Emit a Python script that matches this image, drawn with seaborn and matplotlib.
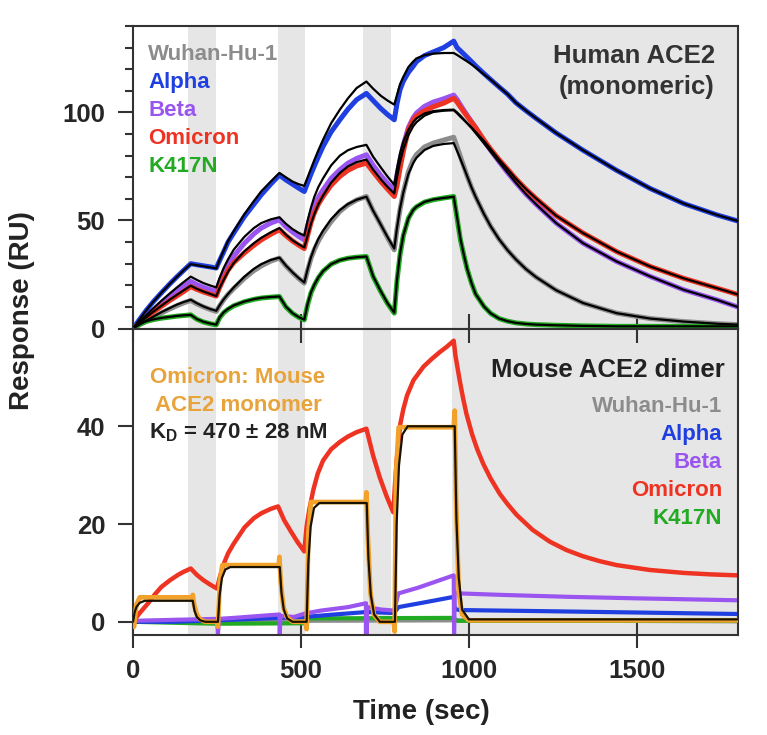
import numpy as np
import pandas as pd
import matplotlib
matplotlib.use("Agg")
import matplotlib.pyplot as plt
import seaborn as sns
from matplotlib.ticker import MultipleLocator

# ---------------- data ----------------
SHADE = [(165, 248), (432, 512), (685, 768), (950, 1800)]

# top panel: Human ACE2 (monomeric); common time grid (sec)
T_TOP = [0, 20, 40, 60, 85, 110, 130, 150, 172,
         190, 210, 230, 248,
         258, 270, 283, 300, 332, 360, 382, 410, 436,
         455, 475, 493, 510,
         520, 530, 540, 552, 566, 590, 616, 640, 666, 695,
         715, 738, 758, 778,
         786, 795, 805, 820, 834, 844, 868, 894, 925, 955,
         965, 975, 985, 995, 1008, 1020, 1045, 1065, 1090, 1115, 1140, 1170, 1200,
         1260, 1340, 1440, 1540, 1640, 1740, 1800]

alpha_top = [0, 4.3, 8.5, 12.3, 16.6, 20.7, 23.8, 26.8, 30.0,
             29.5, 29.0, 28.5, 28.0,
             31.5, 35.5, 40.0, 44.2, 51.9, 57.5, 61.9, 66.8, 71.0,
             68.8, 66.8, 65.0, 63.4,
             67.5, 71.5, 75.2, 79.5, 84.3, 91.0, 96.6, 101.5, 105.9, 108.8,
             105.5, 101.8, 99.0, 96.6,
             104.0, 110.5, 114.5, 118.5, 121.3, 123.5, 126.3, 128.0, 130.0, 133.0,
             130.0, 128.5, 127.0, 125.5, 123.5, 121.6, 118.0, 115.2, 111.8, 108.5, 104.5,
             100.8, 97.3, 90.5, 82.5, 73.2, 64.8, 57.8, 52.5, 49.8]
alpha_fit = [0, 4.3, 8.5, 12.3, 16.6, 20.7, 23.8, 26.8, 29.8,
             29.3, 28.8, 28.3, 27.8,
             31.8, 36.0, 40.5, 45.0, 53.0, 59.0, 63.5, 68.0, 72.0,
             70.0, 68.0, 66.8, 66.0,
             70.0, 74.0, 78.0, 82.5, 87.4, 95.0, 101.3, 106.5, 111.3, 114.3,
             111.0, 107.7, 105.5, 103.6,
             108.0, 113.0, 116.5, 121.0, 123.5, 125.0, 126.5, 127.2, 127.5, 127.5,
             126.6, 125.6, 124.6, 123.6, 122.2, 120.8, 117.6, 115.2, 111.8, 108.5, 104.5,
             100.8, 97.3, 90.5, 82.5, 73.2, 64.8, 57.8, 52.5, 49.8]
beta_top = [0, 2.9, 5.7, 8.4, 11.8, 15.0, 17.4, 19.6, 21.8,
            20.3, 19.0, 18.0, 17.1,
            21.5, 25.5, 29.5, 33.5, 39.5, 43.8, 46.5, 48.8, 50.3,
            47.2, 44.7, 42.7, 41.0,
            47.5, 53.0, 57.0, 60.8, 64.2, 69.5, 73.5, 76.5, 78.7, 80.4,
            75.5, 70.8, 67.2, 64.2,
            71.0, 78.0, 85.0, 93.0, 97.5, 99.7, 102.8, 104.8, 106.3, 108.0,
            106.0, 103.5, 101.0, 98.7, 95.7, 93.0, 87.0, 82.5, 77.2, 72.2, 67.5,
            62.2, 57.5, 48.8, 39.5, 31.0, 24.1, 17.9, 13.2, 10.0]
beta_fit = [0, 3.2, 6.3, 9.3, 12.9, 16.3, 18.9, 21.4, 24.0,
            22.5, 21.0, 19.9, 19.0,
            23.5, 28.0, 32.0, 36.5, 42.5, 46.5, 48.8, 50.5, 51.5,
            48.5, 46.0, 44.3, 43.0,
            50.0, 56.0, 61.0, 65.5, 69.5, 75.5, 80.0, 82.5, 84.0, 85.0,
            79.5, 74.5, 70.3, 66.5,
            74.0, 81.0, 86.5, 92.0, 95.5, 97.2, 99.5, 100.6, 101.1, 101.3,
            100.0, 98.5, 96.8, 95.0, 92.8, 90.5, 85.7, 81.8, 77.0, 72.2, 67.5,
            62.2, 57.5, 48.8, 39.5, 31.0, 24.1, 17.9, 13.2, 10.0]
omicron_top = [0, 2.6, 5.1, 7.5, 10.3, 13.0, 15.0, 17.0, 19.4,
               18.1, 16.9, 15.9, 15.0,
               19.0, 23.0, 27.0, 30.5, 35.0, 38.5, 41.0, 43.6, 45.7,
               43.0, 40.5, 38.6, 37.0,
               43.0, 49.0, 53.5, 57.5, 61.1, 66.3, 70.4, 73.2, 75.2, 76.6,
               72.5, 68.0, 64.5, 61.1,
               66.0, 74.0, 82.0, 92.0, 96.5, 98.3, 100.8, 102.6, 104.3, 106.5,
               104.8, 102.5, 100.3, 98.2, 95.5, 93.0, 87.2, 83.0, 78.2, 73.8, 69.3,
               64.5, 60.2, 52.2, 44.2, 35.6, 28.7, 23.2, 18.6, 15.8]
omicron_fit = [0, 2.7, 5.2, 7.7, 10.6, 13.4, 15.5, 17.6, 19.8,
               18.4, 17.1, 16.0, 15.0,
               18.8, 22.5, 26.3, 30.3, 35.8, 39.5, 42.0, 44.5, 46.5,
               43.5, 40.8, 39.0, 37.5,
               43.0, 48.5, 53.0, 57.5, 61.5, 67.5, 72.0, 75.0, 77.0, 78.2,
               73.5, 69.0, 65.5, 62.5,
               70.0, 77.0, 83.0, 89.5, 93.5, 95.5, 98.5, 100.2, 100.8, 101.0,
               99.6, 98.0, 96.5, 95.0, 93.0, 91.0, 86.8, 83.0, 78.2, 73.8, 69.3,
               64.5, 60.2, 52.2, 44.2, 35.6, 28.7, 23.2, 18.6, 15.8]
wuhan_top = [0, 1.8, 3.5, 5.1, 7.2, 9.1, 10.5, 11.8, 13.0,
             11.4, 10.0, 8.8, 7.9,
             10.5, 13.3, 15.8, 18.5, 23.3, 26.8, 29.0, 31.2, 32.6,
             29.0, 25.8, 23.2, 21.0,
             27.0, 32.5, 36.5, 40.5, 44.2, 49.5, 54.2, 57.2, 59.5, 61.1,
             54.5, 48.0, 42.0, 36.4,
             46.0, 55.0, 63.0, 72.5, 78.0, 80.5, 84.0, 85.8, 87.2, 88.5,
             84.0, 79.5, 75.0, 70.5, 65.3, 61.0, 53.0, 47.3, 41.3, 36.3, 32.0,
             27.5, 23.8, 17.7, 11.8, 7.1, 4.6, 3.2, 2.2, 1.8]
wuhan_fit = [0, 1.9, 3.7, 5.4, 7.6, 9.5, 11.0, 12.2, 13.3,
             11.7, 10.2, 9.0, 8.2,
             10.8, 13.5, 16.0, 19.0, 24.0, 27.6, 29.8, 31.7, 32.8,
             29.2, 26.0, 23.4, 21.3,
             27.5, 33.0, 37.3, 41.5, 45.3, 50.6, 54.8, 57.6, 59.6, 61.0,
             54.5, 48.0, 42.3, 37.0,
             46.5, 55.5, 63.0, 71.5, 76.5, 79.0, 82.6, 84.5, 85.4, 85.8,
             82.2, 78.4, 74.5, 70.5, 65.3, 61.0, 53.0, 47.3, 41.3, 36.3, 32.0,
             27.5, 23.8, 17.7, 11.8, 7.1, 4.6, 3.2, 2.2, 1.8]
k417n_top = [0, 2.0, 3.3, 4.1, 4.8, 5.3, 5.7, 6.0, 6.3,
             4.3, 3.0, 2.2, 1.7,
             5.0, 7.3, 8.9, 10.5, 12.4, 13.5, 14.1, 14.5, 14.8,
             10.0, 7.0, 5.2, 4.0,
             11.0, 16.5, 20.0, 23.5, 26.5, 29.8, 31.6, 32.5, 33.0, 33.3,
             24.0, 17.0, 11.5, 7.1,
             22.0, 34.0, 43.0, 51.0, 54.8, 56.3, 58.5, 59.6, 60.4, 61.1,
             51.0, 41.0, 34.0, 27.5, 21.0, 16.0, 10.2, 7.0, 4.6, 3.4, 2.6,
             2.1, 1.8, 1.5, 1.2, 1.0, 1.0, 1.0, 1.0, 1.0]
k417n_fit = [0, 2.1, 3.4, 4.2, 4.9, 5.4, 5.8, 6.1, 6.3,
             4.4, 3.1, 2.3, 1.8,
             5.2, 7.5, 9.1, 10.7, 12.5, 13.6, 14.2, 14.6, 14.8,
             10.2, 7.1, 5.3, 4.1,
             11.5, 16.8, 20.3, 23.7, 26.6, 29.8, 31.6, 32.5, 33.0, 33.3,
             24.2, 17.2, 11.7, 7.3,
             22.5, 34.5, 43.3, 51.0, 54.8, 56.4, 58.6, 59.7, 60.4, 61.0,
             51.5, 41.5, 34.2, 27.6, 21.0, 16.0, 10.2, 7.0, 4.6, 3.4, 2.6,
             2.1, 1.8, 1.5, 1.2, 1.0, 1.0, 1.0, 1.0, 1.0]

# bottom panel: Mouse ACE2 dimer
t_omi_dim = [0, 20, 45, 65, 84, 110, 134, 150, 172, 190, 210, 230, 250, 258, 270, 283,
             300, 332, 360, 382, 410, 432, 450, 470, 490, 510, 517, 525, 537, 550, 566,
             590, 616, 640, 666, 695, 715, 735, 755, 775, 780, 785, 796, 805, 816, 835,
             865, 890, 914, 935, 955, 960, 973, 983, 993, 1010, 1025, 1043, 1065, 1092,
             1115, 1142, 1190, 1241, 1290, 1340, 1390, 1440, 1539, 1640, 1720, 1800]
omi_dim = [0, 1.8, 3.8, 5.6, 7.1, 8.5, 9.6, 10.2, 10.9, 9.6, 8.5, 7.6, 6.8, 9.0, 11.8,
           14.0, 16.0, 19.3, 21.2, 22.2, 23.1, 23.6, 20.8, 18.5, 16.3, 14.4, 19.5, 23.0,
           27.0, 30.3, 33.0, 35.3, 36.8, 37.9, 38.8, 39.5, 34.0, 29.5, 25.7, 22.4, 28.0,
           33.0, 40.5, 43.5, 46.3, 49.4, 52.2, 53.8, 55.2, 56.3, 57.5, 54.5, 49.3, 45.7,
           42.5, 38.3, 35.3, 32.3, 29.3, 26.2, 24.1, 21.9, 18.8, 16.4, 14.7, 13.4, 12.4,
           11.6, 10.6, 10.0, 9.7, 9.5]
t_beta_dim = [0, 120, 250, 253, 256, 300, 436, 437, 439, 480, 512, 560, 640, 694, 695,
              697, 740, 778, 790, 850, 955, 956, 958, 975, 1100, 1300, 1500, 1800]
beta_dim = [0.2, 0.4, 0.6, -2.5, 0.6, 0.8, 1.5, -2.5, 1.2, 1.0, 1.7, 2.3, 3.0, 3.8, -2.5,
            3.0, 2.5, 2.3, 5.8, 7.0, 9.5, -2.5, 6.0, 5.8, 5.5, 5.1, 4.8, 4.4]
t_alpha_dim = [0, 120, 250, 437, 512, 600, 695, 778, 790, 870, 955, 958, 975, 1200, 1500, 1800]
alpha_dim = [0, 0, 0.3, 0.8, 1.0, 1.5, 2.0, 1.8, 3.0, 4.0, 5.1, 2.6, 2.4, 2.2, 1.9, 1.6]
t_k417n_dim = [0, 250, 510, 520, 955, 965, 1800]
k417n_dim = [0, -0.4, -0.3, 0.7, 0.8, 0.2, 0.2]
t_wuhan_dim = [0, 500, 958, 1800]
wuhan_dim = [0, 0.2, 0.3, 0.1]

# Omicron : mouse ACE2 monomer (orange) and its fit (black)
t_mono = [0, 3, 10, 20, 176, 178, 182, 190, 200, 215, 250, 253, 258, 266, 434, 436, 440,
          448, 458, 475, 514, 517, 522, 530, 693, 695, 699, 707, 717, 735, 776, 779, 783,
          791, 955, 958, 962, 970, 980, 1000, 1800]
mono = [0, -1.0, 3.5, 5.0, 5.0, 5.5, 3.5, 1.5, 0.5, 0, 0, -1.0, 8.0, 11.6, 11.6, 13.3,
        8.0, 3.0, 1.0, 0, 0, -1.5, 18.0, 24.5, 24.5, 26.5, 18.0, 6.0, 1.5, 0, 0, -2.0,
        30.0, 39.8, 39.8, 43.2, 25.0, 6.0, 1.5, 0.3, 0.3]
t_mono_fit = [0, 5, 10, 20, 35, 178, 183, 190, 200, 215, 253, 258, 265, 275, 290, 437,
              442, 449, 459, 475, 517, 522, 529, 539, 555, 696, 701, 708, 718, 735, 780,
              785, 792, 802, 818, 958, 963, 970, 980, 1000, 1800]
mono_fit = [0, 2.0, 3.0, 3.9, 4.3, 4.3, 2.3, 1.0, 0.3, 0, 0, 5.5, 9.0, 10.7, 11.2, 11.2,
            6.0, 2.5, 0.7, 0, 0, 12.0, 19.5, 23.3, 24.3, 24.3, 13.0, 5.5, 1.5, 0, 0, 20.0,
            32.0, 38.3, 40.0, 40.0, 21.0, 9.0, 2.5, 0.5, 0.5]

VARIANTS = ["Wuhan-Hu-1", "Alpha", "Beta", "Omicron", "K417N"]

# ---------------- style ----------------
C_GRAY, C_BLUE, C_PURPLE, C_RED, C_GREEN = "#8c8c8c", "#1f3fe0", "#9a55f0", "#ee3322", "#22aa22"
C_ORANGE = "#f2a22a"
C_TXT = "#333333"
VAR_COLORS = [C_GRAY, C_BLUE, C_PURPLE, C_RED, C_GREEN]

sns.set_style("ticks")
plt.rcParams["font.family"] = ["Liberation Sans", "DejaVu Sans"]
plt.rcParams["font.weight"] = "bold"
plt.rcParams["mathtext.fontset"] = "custom"
plt.rcParams["mathtext.rm"] = "Liberation Sans:bold"
plt.rcParams["mathtext.bf"] = "Liberation Sans:bold"
plt.rcParams["mathtext.default"] = "bf"

W, H = 767, 735
fig = plt.figure(figsize=(W / 100, H / 100), dpi=100)
ax1 = fig.add_axes([133 / W, 1 - 328.5 / H, 604.5 / W, 302.5 / H])
ax2 = fig.add_axes([133 / W, 1 - 635 / H, 604.5 / W, 306.5 / H])

def fx(x):
    return x / W

def fy(y):
    return 1 - y / H

def draw(ax, t, y, color, lw, z):
    sns.lineplot(x=np.asarray(t, float), y=np.asarray(y, float), ax=ax, color=color,
                 linewidth=lw, estimator=None, sort=False, zorder=z, legend=False)
    ax.lines[-1].set_solid_joinstyle("round")

for ax in (ax1, ax2):
    for a, b in SHADE:
        ax.axvspan(a, b, color="#e6e6e6", lw=0, zorder=0)

# top panel
LW_D, LW_F = 3.6, 1.6
top_data = [wuhan_top, alpha_top, beta_top, omicron_top, k417n_top]
top_fit = [wuhan_fit, alpha_fit, beta_fit, omicron_fit, k417n_fit]
order = [4, 0, 2, 3, 1]
for i in order:
    draw(ax1, T_TOP, top_data[i], VAR_COLORS[i], LW_D, 2 + i * 0.1)
for i in order:
    draw(ax1, T_TOP, top_fit[i], "black", LW_F, 3 + i * 0.1)

# bottom panel
draw(ax2, t_wuhan_dim, wuhan_dim, C_GRAY, 3.0, 2.0)
draw(ax2, t_k417n_dim, k417n_dim, C_GREEN, 3.0, 2.1)
draw(ax2, t_alpha_dim, alpha_dim, C_BLUE, 3.0, 2.2)
draw(ax2, t_beta_dim, beta_dim, C_PURPLE, 3.0, 2.3)
draw(ax2, t_omi_dim, omi_dim, C_RED, 3.2, 2.4)
draw(ax2, t_mono, mono, C_ORANGE, 3.4, 2.6)
draw(ax2, t_mono_fit, mono_fit, "#1a1200", 1.6, 3.0)

# axes cosmetics
for ax in (ax1, ax2):
    ax.set_xlim(0, 1800)
    ax.set_xlabel("")
    ax.set_ylabel("")
    for s in ax.spines.values():
        s.set_visible(True)
        s.set_linewidth(1.5)
        s.set_color(C_TXT)
    ax.tick_params(axis="y", which="major", direction="out", length=11, width=1.5,
                   color=C_TXT, labelsize=18.5, pad=9, right=False)
    ax.tick_params(axis="y", which="minor", direction="out", length=6, width=1.5,
                   color=C_TXT, right=False)

ax1.set_ylim(0, 140)
ax1.set_yticks([0, 50, 100])
ax1.yaxis.set_minor_locator(MultipleLocator(10))
ax1.set_xticks([0, 500, 1000, 1500])
ax1.tick_params(axis="x", which="both", direction="in", length=11, width=1.5, color=C_TXT,
                bottom=True, top=False, labelbottom=False)
ax1.xaxis.set_minor_locator(matplotlib.ticker.NullLocator())

ax2.set_ylim(-2.7, 60)
ax2.set_yticks([0, 20, 40])
ax2.set_xticks([0, 500, 1000, 1500])
ax2.tick_params(axis="x", direction="inout", length=19, width=1.5, color=C_TXT,
                labelsize=18.5, pad=8, top=False)
sec = ax2.secondary_xaxis("top")
sec.set_xticks([0, 500, 1000, 1500])
sec.tick_params(axis="x", direction="in", length=11, width=1.5, color=C_TXT, labeltop=False)
sec.spines["top"].set_visible(False)

for ax in (ax1, ax2):
    for lab in ax.get_yticklabels() + ax.get_xticklabels():
        lab.set_fontweight("bold")

# texts
LEG = 16
for i, (name, c) in enumerate(zip(VARIANTS, VAR_COLORS)):
    fig.text(fx(148), fy(60 + 28 * i), name, color=c, fontsize=LEG, fontweight="bold",
             ha="left", va="baseline")
fig.text(fx(715), fy(63), "Human ACE2", color=C_TXT, fontsize=18.5, fontweight="bold",
         ha="right", va="baseline")
fig.text(fx(715), fy(94), "(monomeric)", color=C_TXT, fontsize=18.5, fontweight="bold",
         ha="right", va="baseline")

fig.text(fx(725), fy(377), "Mouse ACE2 dimer", color="#222222", fontsize=18.5,
         fontweight="bold", ha="right", va="baseline")
for i, (name, c) in enumerate(zip(VARIANTS, VAR_COLORS)):
    fig.text(fx(722), fy(412 + 28 * i), name, color=c, fontsize=LEG, fontweight="bold",
             ha="right", va="baseline")

fig.text(fx(238), fy(383), "Omicron: Mouse", color="#e8a33b", fontsize=LEG,
         fontweight="bold", ha="center", va="baseline")
fig.text(fx(238), fy(411), "ACE2 monomer", color="#e8a33b", fontsize=LEG,
         fontweight="bold", ha="center", va="baseline")
fig.text(fx(238), fy(438), r"K$_\mathregular{D}$ = 470 ± 28 nM", color="#222222",
         fontsize=LEG, fontweight="bold", ha="center", va="baseline")

fig.text(fx(22), fy(311), "Response (RU)", rotation=90, color="#222222", fontsize=20,
         fontweight="bold", ha="center", va="center")
fig.text(fx(421), fy(712), "Time (sec)", color="#222222", fontsize=20,
         fontweight="bold", ha="center", va="center")

fig.savefig("out.png", dpi=100)
